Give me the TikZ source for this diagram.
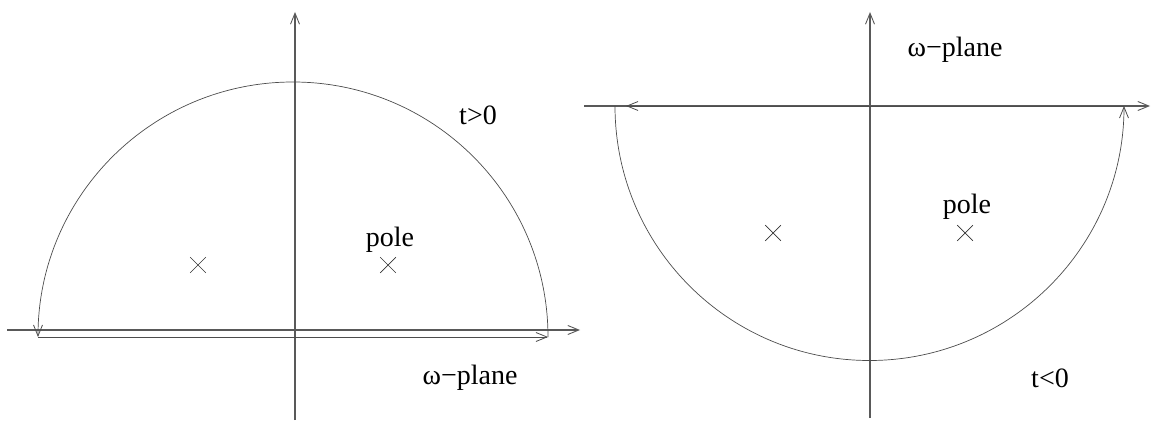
\documentclass[tikz,border=0pt]{standalone}
\usepackage{fontspec}
\setmainfont{Liberation Serif}
\usetikzlibrary{arrows.meta,shapes.misc}
\tikzset{
  axis/.style={draw=black!65, line width=1.1pt, -{Straight Barb[length=11pt,width=9pt,line width=0.9pt]}},
  contour/.style={draw=black!70, line width=0.7pt, -{Straight Barb[length=11pt,width=9pt,line width=0.8pt]}},
  polemark/.style={cross out, draw=black!80, line width=0.7pt, minimum size=15pt, inner sep=0pt},
  lbl/.style={font=\fontsize{28}{32}\selectfont, inner sep=0pt}
}
\begin{document}
\begin{tikzpicture}[x=1pt,y=-1pt]
\useasboundingbox (0,0) rectangle (1153,422);
% ---------- left panel ----------
\coordinate (LxA) at (7,330);
\coordinate (LxB) at (580,330);
\coordinate (LyA) at (295,420);
\coordinate (LyB) at (295,12);
\coordinate (La) at (548,337);
\coordinate (Lb) at (38,337);
\draw[axis] (LxA) -- (LxB);
\draw[axis] (LyA) -- (LyB);
\draw[contour] (La) arc[start angle=0, end angle=-180, radius=255];
\draw[contour] (Lb) -- (La);
\node[polemark] (Lp1) at (198,265) {};
\node[polemark] (Lp2) at (388,265) {};
\node[lbl] (Lpole) at (390,240) {pole};
\node[lbl] (Ltg) at (478,115) {t>0};
\node[lbl] (Lplane) at (470,378) {ω−plane};
% ---------- right panel ----------
\coordinate (RxA) at (584,106);
\coordinate (RxB) at (1150,106);
\coordinate (RyA) at (870,418);
\coordinate (RyB) at (870,12);
\coordinate (Ra) at (615,106);
\coordinate (Rb) at (1124,106);
\coordinate (Rc) at (626,106);
\draw[axis] (RxA) -- (RxB);
\draw[axis] (RyA) -- (RyB);
\draw[contour] (Ra) arc[start angle=180, end angle=0, radius=254.5];
\draw[contour] (Rb) -- (Rc);
\node[polemark] (Rp1) at (773,233) {};
\node[polemark] (Rp2) at (965,233) {};
\node[lbl] (Rpole) at (967,207) {pole};
\node[lbl] (Rtl) at (1050,378) {t<0};
\node[lbl] (Rplane) at (955,50) {ω−plane};
\end{tikzpicture}
\end{document}
